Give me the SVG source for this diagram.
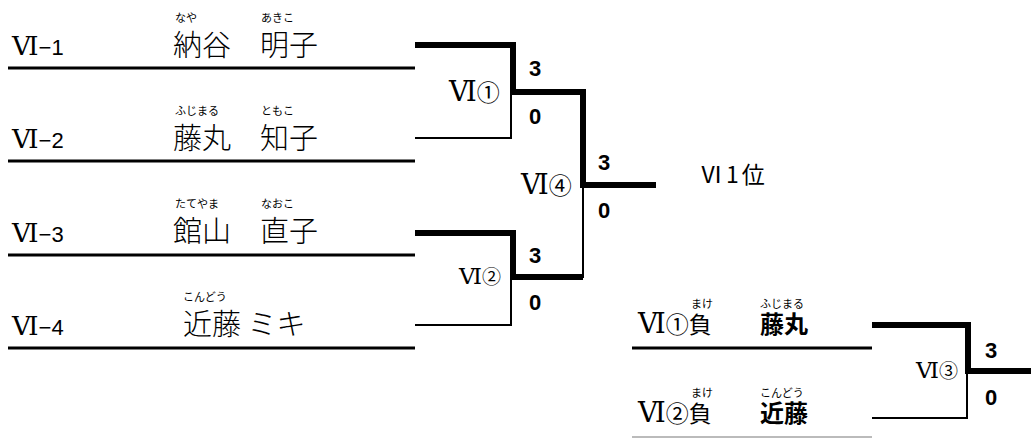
<svg xmlns="http://www.w3.org/2000/svg" width="1031" height="441" viewBox="0 0 1031 441">
<style>
.bg{fill:#fff}
.ent{font-family:"Liberation Sans","Noto Sans CJK JP",sans-serif;font-size:22px;fill:#000}
.rn{font-family:"DejaVu Serif","Liberation Serif","Noto Sans CJK JP",serif;font-size:120%}
.nm{font-family:"Noto Sans CJK JP",sans-serif;font-size:29px;fill:#000;font-weight:300}
.rb{font-family:"Noto Sans CJK JP",sans-serif;font-size:11px;fill:#000}
.lbl{font-family:"Noto Sans CJK JP",sans-serif;font-size:23px;fill:#000}
.lbls{font-family:"Noto Sans CJK JP",sans-serif;font-size:19px;fill:#000}
.sc{font-family:"Liberation Sans",Arial,sans-serif;font-size:22px;font-weight:bold;fill:#000}
.cn{font-family:"Noto Sans CJK JP",sans-serif;font-size:24px;fill:#000;font-weight:bold}
.thin{stroke:#000;stroke-width:2;fill:none}
.thick{stroke:#000;stroke-width:6;fill:none}
.rule{stroke:#000;stroke-width:3;fill:none}
</style>
<rect class="bg" width="1031" height="441"/>
<g id="connectors">
<line class="rule" x1="8" y1="68" x2="415" y2="68"/>
<line class="rule" x1="8" y1="161" x2="415" y2="161"/>
<line class="rule" x1="8" y1="255" x2="415" y2="255"/>
<line class="rule" x1="8" y1="348" x2="415" y2="348"/>
<polyline class="thick" points="415,45 513,45 513,92 583,92 583,185 656,185"/>
<polyline class="thin" points="415,138 511,138 511,92"/>
<polyline class="thick" points="415,233 513,233 513,277 583,277"/>
<polyline class="thin" points="415,325 511,325 511,277"/>
<line class="thin" x1="583" y1="185" x2="583" y2="278"/>
<line class="rule" x1="632" y1="348" x2="872" y2="348"/>
<line stroke="#bbb" stroke-width="2" x1="632" y1="437" x2="872" y2="437"/>
<polyline class="thick" points="872,325 968,325 968,371 1031,371"/>
<polyline class="thin" points="872,418 967,418 967,371"/>
</g>
<g id="entry1">
<text class="ent" x="12" y="55"><tspan class="rn">Ⅵ</tspan>−1</text>
<text class="rb" x="175" y="22">なや</text><text class="rb" x="261" y="22">あきこ</text>
<text class="nm" x="173" y="56">納谷　明子</text>
</g>
<g id="entry2">
<text class="ent" x="12" y="148"><tspan class="rn">Ⅵ</tspan>−2</text>
<text class="rb" x="175" y="115">ふじまる</text><text class="rb" x="261" y="115">ともこ</text>
<text class="nm" x="173" y="149">藤丸　知子</text>
</g>
<g id="entry3">
<text class="ent" x="12" y="242"><tspan class="rn">Ⅵ</tspan>−3</text>
<text class="rb" x="175" y="208">たてやま</text><text class="rb" x="261" y="208">なおこ</text>
<text class="nm" x="173" y="242">館山　直子</text>
</g>
<g id="entry4">
<text class="ent" x="12" y="335"><tspan class="rn">Ⅵ</tspan>−4</text>
<text class="rb" x="183" y="301">こんどう</text>
<text class="nm" x="183" y="335">近藤 ミキ</text>
</g>
<g id="match1">
<text class="lbl" x="449" y="101"><tspan class="rn">Ⅵ</tspan>①</text>
<text class="sc" x="529" y="76">3</text>
<text class="sc" x="529" y="124">0</text>
</g>
<g id="match2">
<text class="lbls" x="459" y="284"><tspan class="rn">Ⅵ</tspan>②</text>
<text class="sc" x="529" y="263">3</text>
<text class="sc" x="529" y="310">0</text>
</g>
<g id="match4">
<text class="lbl" x="521" y="194"><tspan class="rn">Ⅵ</tspan>④</text>
<text class="sc" x="598" y="170">3</text>
<text class="sc" x="598" y="218">0</text>
</g>
<g id="winner">
<text class="lbl" x="700" y="183" letter-spacing="3">Ⅵ1位</text>
</g>
<g id="cons1">
<text class="rb" x="691" y="308">まけ</text><text class="rb" x="760" y="308">ふじまる</text>
<text class="lbl" x="638" y="333"><tspan class="rn">Ⅵ</tspan>①負</text>
<text class="cn" x="760" y="333">藤丸</text>
</g>
<g id="cons2">
<text class="rb" x="691" y="397">まけ</text><text class="rb" x="760" y="397">こんどう</text>
<text class="lbl" x="638" y="422"><tspan class="rn">Ⅵ</tspan>②負</text>
<text class="cn" x="760" y="422">近藤</text>
</g>
<g id="match3">
<text class="lbls" x="916" y="378"><tspan class="rn">Ⅵ</tspan>③</text>
<text class="sc" x="985" y="358">3</text>
<text class="sc" x="985" y="405">0</text>
</g>
</svg>
